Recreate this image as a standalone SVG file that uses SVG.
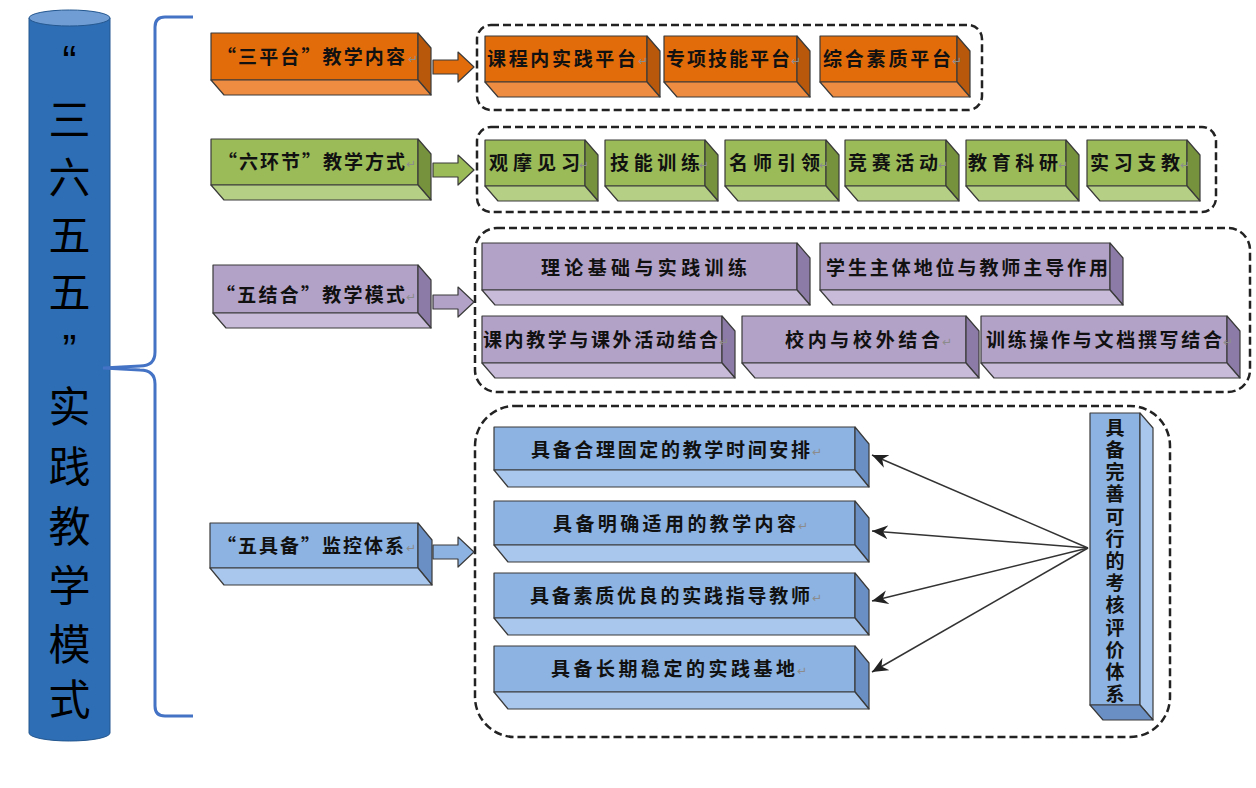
<svg xmlns="http://www.w3.org/2000/svg" width="1256" height="788" viewBox="0 0 1256 788">
<style>
.t{font-family:"Noto Sans CJK SC","Noto Sans CJK TC",sans-serif;font-weight:bold;font-size:19px;fill:#111}
.big{font-family:"Noto Sans CJK SC",sans-serif;font-size:42px;fill:#000;text-anchor:middle}
.q{font-family:"Liberation Sans",sans-serif;font-size:42px;fill:#000;text-anchor:middle}
.pm{font-family:"DejaVu Sans",sans-serif;font-size:12px;fill:#8c8c8c}
.edge{stroke:#3a3a3a;stroke-width:1.2;stroke-linejoin:round}
.o1{fill:#E36C0A}.o2{fill:#B7580B}.o3{fill:#EE8D42}
.g1{fill:#9BBB59}.g2{fill:#76923C}.g3{fill:#B5CF84}
.p1{fill:#B3A2C7}.p2{fill:#8C7BA6}.p3{fill:#C7BBD9}
.b1{fill:#8DB3E2}.b2{fill:#6A8FC4}.b3{fill:#A9C6EC}
.dash{fill:none;stroke:#222;stroke-width:2.5;stroke-dasharray:8 4}
.line{stroke:#333;stroke-width:1.5;fill:none}
.vt{writing-mode:vertical-rl;text-orientation:upright;letter-spacing:3.2px}
</style>
<defs>
<marker id="ah" markerUnits="userSpaceOnUse" markerWidth="18" markerHeight="14" refX="16" refY="7" orient="auto">
<path d="M16,7 L0,0 L5,7 L0,14 Z" fill="#222"/>
</marker>
</defs>
<rect width="1256" height="788" fill="#fff"/>

<g id="title">
<path d="M29,18 L29,733 A40.5,8 0 0 0 110,733 L110,18 Z" fill="#2E6EB5" stroke="#24578F" stroke-width="1"/>
<ellipse cx="69.5" cy="18" rx="40.5" ry="8" fill="#6F9DD4" stroke="#24578F" stroke-width="1"/>
<text class="q" x="69.5" y="75">“</text>
<text class="big" x="69.5" y="135">三</text>
<text class="big" x="69.5" y="193">六</text>
<text class="big" x="69.5" y="251">五</text>
<text class="big" x="69.5" y="308">五</text>
<text class="q" x="69.5" y="364">”</text>
<text class="big" x="69.5" y="422">实</text>
<text class="big" x="69.5" y="482">践</text>
<text class="big" x="69.5" y="542">教</text>
<text class="big" x="69.5" y="601">学</text>
<text class="big" x="69.5" y="660">模</text>
<text class="big" x="69.5" y="715">式</text>
</g>

<g id="brace">
<path d="M193,17 L165,17 Q155,17 155,27 L155,352 Q155,366 140,366 L103,368 L140,370 Q155,370 155,384 L155,706 Q155,716 165,716 L193,716" fill="none" stroke="#4472C4" stroke-width="3"/>
</g>

<g id="groups">
<rect class="dash" x="477" y="25" width="505" height="85" rx="14"/>
<rect class="dash" x="477" y="127" width="739" height="85" rx="14"/>
<rect class="dash" x="475" y="228" width="775" height="164" rx="22"/>
<rect class="dash" x="475" y="406" width="695" height="331" rx="40"/>
</g>

<g id="connectors">
<path class="o1 edge" d="M433,60 L458,60 L458,52 L474,67 L458,82 L458,74 L433,74 Z"/>
<path class="g1 edge" d="M433,163 L458,163 L458,155 L474,170 L458,185 L458,177 L433,177 Z"/>
<path class="p1 edge" d="M433,295 L458,295 L458,287 L474,302 L458,317 L458,309 L433,309 Z"/>
<path class="b1 edge" d="M433,545 L458,545 L458,537 L474,552 L458,567 L458,559 L433,559 Z"/>
<line class="line" x1="1088" y1="548" x2="872" y2="455" marker-end="url(#ah)"/>
<line class="line" x1="1088" y1="548" x2="872" y2="531" marker-end="url(#ah)"/>
<line class="line" x1="1088" y1="548" x2="872" y2="601" marker-end="url(#ah)"/>
<line class="line" x1="1088" y1="548" x2="872" y2="672" marker-end="url(#ah)"/>
</g>

<!-- Row 1 -->
<g id="n-sanpingtai">
<rect class="o1 edge" x="211" y="33" width="207" height="47"/>
<path class="o2 edge" d="M418,33 L431,48 L431,95 L418,80 Z"/>
<path class="o3 edge" d="M211,80 L418,80 L431,95 L224,95 Z"/>
<text class="t" x="217" y="64" textLength="188" lengthAdjust="spacing">“三平台”教学内容</text>
<text class="pm" x="408" y="63">↵</text>
</g>
<g id="n-kcn">
<rect class="o1 edge" x="485" y="36" width="162" height="46"/>
<path class="o2 edge" d="M647,36 L660,51 L660,97 L647,82 Z"/>
<path class="o3 edge" d="M485,82 L647,82 L660,97 L498,97 Z"/>
<text class="t" x="487" y="66" textLength="149" lengthAdjust="spacing">课程内实践平台</text>
<text class="pm" x="638" y="65">↵</text>
</g>
<g id="n-zxjn">
<rect class="o1 edge" x="664" y="36" width="133" height="46"/>
<path class="o2 edge" d="M797,36 L810,51 L810,97 L797,82 Z"/>
<path class="o3 edge" d="M664,82 L797,82 L810,97 L677,97 Z"/>
<text class="t" x="666" y="66" textLength="124" lengthAdjust="spacing">专项技能平台</text>
<text class="pm" x="791" y="65">↵</text>
</g>
<g id="n-zhsz">
<rect class="o1 edge" x="820" y="36" width="137" height="46"/>
<path class="o2 edge" d="M957,36 L970,51 L970,97 L957,82 Z"/>
<path class="o3 edge" d="M820,82 L957,82 L970,97 L833,97 Z"/>
<text class="t" x="823" y="66" textLength="128" lengthAdjust="spacing">综合素质平台</text>
<text class="pm" x="952" y="65">↵</text>
</g>

<!-- Row 2 -->
<g id="n-liuhuanjie">
<rect class="g1 edge" x="211" y="139" width="207" height="46"/>
<path class="g2 edge" d="M418,139 L431,154 L431,200 L418,185 Z"/>
<path class="g3 edge" d="M211,185 L418,185 L431,200 L224,200 Z"/>
<text class="t" x="218" y="169" textLength="187" lengthAdjust="spacing">“六环节”教学方式</text>
<text class="pm" x="406" y="168">↵</text>
</g>
<g id="n-gmjx">
<rect class="g1 edge" x="485" y="140" width="100" height="46"/>
<path class="g2 edge" d="M585,140 L598,155 L598,201 L585,186 Z"/>
<path class="g3 edge" d="M485,186 L585,186 L598,201 L498,201 Z"/>
<text class="t" x="489" y="170" textLength="91" lengthAdjust="spacing">观摩见习</text>
<text class="pm" x="579" y="169">↵</text>
</g>
<g id="n-jnxl">
<rect class="g1 edge" x="605" y="140" width="100" height="46"/>
<path class="g2 edge" d="M705,140 L718,155 L718,201 L705,186 Z"/>
<path class="g3 edge" d="M605,186 L705,186 L718,201 L618,201 Z"/>
<text class="t" x="610" y="170" textLength="90" lengthAdjust="spacing">技能训练</text>
<text class="pm" x="699" y="169">↵</text>
</g>
<g id="n-msyl">
<rect class="g1 edge" x="725" y="140" width="101" height="46"/>
<path class="g2 edge" d="M826,140 L839,155 L839,201 L826,186 Z"/>
<path class="g3 edge" d="M725,186 L826,186 L839,201 L738,201 Z"/>
<text class="t" x="729" y="170" textLength="91" lengthAdjust="spacing">名师引领</text>
<text class="pm" x="819" y="169">↵</text>
</g>
<g id="n-jshd">
<rect class="g1 edge" x="845" y="140" width="101" height="46"/>
<path class="g2 edge" d="M946,140 L959,155 L959,201 L946,186 Z"/>
<path class="g3 edge" d="M845,186 L946,186 L959,201 L858,201 Z"/>
<text class="t" x="848" y="170" textLength="90" lengthAdjust="spacing">竞赛活动</text>
<text class="pm" x="938" y="169">↵</text>
</g>
<g id="n-jyky">
<rect class="g1 edge" x="966" y="140" width="100" height="46"/>
<path class="g2 edge" d="M1066,140 L1079,155 L1079,201 L1066,186 Z"/>
<path class="g3 edge" d="M966,186 L1066,186 L1079,201 L979,201 Z"/>
<text class="t" x="968" y="170" textLength="90" lengthAdjust="spacing">教育科研</text>
<text class="pm" x="1058" y="169">↵</text>
</g>
<g id="n-sxzj">
<rect class="g1 edge" x="1087" y="140" width="100" height="46"/>
<path class="g2 edge" d="M1187,140 L1200,155 L1200,201 L1187,186 Z"/>
<path class="g3 edge" d="M1087,186 L1187,186 L1200,201 L1100,201 Z"/>
<text class="t" x="1090" y="170" textLength="90" lengthAdjust="spacing">实习支教</text>
<text class="pm" x="1180" y="169">↵</text>
</g>

<!-- Row 3 -->
<g id="n-wujiehe">
<rect class="p1 edge" x="213" y="265" width="205" height="48"/>
<path class="p2 edge" d="M418,265 L431,280 L431,328 L418,313 Z"/>
<path class="p3 edge" d="M213,313 L418,313 L431,328 L226,328 Z"/>
<text class="t" x="216" y="302" textLength="189" lengthAdjust="spacing">“五结合”教学模式</text>
<text class="pm" x="406" y="301">↵</text>
</g>
<g id="n-llsj">
<rect class="p1 edge" x="482" y="243" width="315" height="47"/>
<path class="p2 edge" d="M797,243 L810,258 L810,305 L797,290 Z"/>
<path class="p3 edge" d="M482,290 L797,290 L810,305 L495,305 Z"/>
<text class="t" x="541" y="275" textLength="206" lengthAdjust="spacing">理论基础与实践训练</text>
</g>
<g id="n-xszt">
<rect class="p1 edge" x="820" y="243" width="290" height="47"/>
<path class="p2 edge" d="M1110,243 L1123,258 L1123,305 L1110,290 Z"/>
<path class="p3 edge" d="M820,290 L1110,290 L1123,305 L833,305 Z"/>
<text class="t" x="826" y="275" textLength="282" lengthAdjust="spacing">学生主体地位与教师主导作用</text>
</g>
<g id="n-knjx">
<rect class="p1 edge" x="482" y="316" width="240" height="47"/>
<path class="p2 edge" d="M722,316 L735,331 L735,378 L722,363 Z"/>
<path class="p3 edge" d="M482,363 L722,363 L735,378 L495,378 Z"/>
<text class="t" x="483" y="347" textLength="235" lengthAdjust="spacing">课内教学与课外活动结合</text>
<text class="pm" x="719" y="346">↵</text>
</g>
<g id="n-xnxw">
<rect class="p1 edge" x="742" y="316" width="224" height="47"/>
<path class="p2 edge" d="M966,316 L979,331 L979,378 L966,363 Z"/>
<path class="p3 edge" d="M742,363 L966,363 L979,378 L755,378 Z"/>
<text class="t" x="785" y="347" textLength="155" lengthAdjust="spacing">校内与校外结合</text>
<text class="pm" x="942" y="346">↵</text>
</g>
<g id="n-xlcz">
<rect class="p1 edge" x="981" y="316" width="246" height="47"/>
<path class="p2 edge" d="M1227,316 L1240,331 L1240,378 L1227,363 Z"/>
<path class="p3 edge" d="M981,363 L1227,363 L1240,378 L994,378 Z"/>
<text class="t" x="986" y="347" textLength="236" lengthAdjust="spacing">训练操作与文档撰写结合</text>
<text class="pm" x="1223" y="346">↵</text>
</g>

<!-- Row 4 -->
<g id="n-wujubei">
<rect class="b1 edge" x="210" y="523" width="208" height="45"/>
<path class="b2 edge" d="M418,523 L432,540 L432,585 L418,568 Z"/>
<path class="b3 edge" d="M210,568 L418,568 L432,585 L224,585 Z"/>
<text class="t" x="217" y="553" textLength="187" lengthAdjust="spacing">“五具备”监控体系</text>
<text class="pm" x="406" y="552">↵</text>
</g>
<g id="n-jb1">
<rect class="b1 edge" x="494" y="427" width="361" height="43"/>
<path class="b2 edge" d="M855,427 L869,444 L869,487 L855,470 Z"/>
<path class="b3 edge" d="M494,470 L855,470 L869,487 L508,487 Z"/>
<text class="t" x="531" y="457" textLength="279" lengthAdjust="spacing">具备合理固定的教学时间安排</text>
<text class="pm" x="812" y="456">↵</text>
</g>
<g id="n-jb2">
<rect class="b1 edge" x="494" y="501" width="361" height="44"/>
<path class="b2 edge" d="M855,501 L869,518 L869,562 L855,545 Z"/>
<path class="b3 edge" d="M494,545 L855,545 L869,562 L508,562 Z"/>
<text class="t" x="553" y="531" textLength="243" lengthAdjust="spacing">具备明确适用的教学内容</text>
<text class="pm" x="798" y="530">↵</text>
</g>
<g id="n-jb3">
<rect class="b1 edge" x="494" y="573" width="361" height="45"/>
<path class="b2 edge" d="M855,573 L869,590 L869,635 L855,618 Z"/>
<path class="b3 edge" d="M494,618 L855,618 L869,635 L508,635 Z"/>
<text class="t" x="530" y="603" textLength="280" lengthAdjust="spacing">具备素质优良的实践指导教师</text>
<text class="pm" x="812" y="602">↵</text>
</g>
<g id="n-jb4">
<rect class="b1 edge" x="494" y="646" width="361" height="46"/>
<path class="b2 edge" d="M855,646 L869,663 L869,709 L855,692 Z"/>
<path class="b3 edge" d="M494,692 L855,692 L869,709 L508,709 Z"/>
<text class="t" x="551" y="676" textLength="244" lengthAdjust="spacing">具备长期稳定的实践基地</text>
<text class="pm" x="797" y="675">↵</text>
</g>
<g id="n-khpj">
<rect class="b1 edge" x="1090" y="413" width="50" height="292"/>
<path class="b3 edge" d="M1140,413 L1153,428 L1153,720 L1140,705 Z"/>
<path class="b2 edge" d="M1090,705 L1140,705 L1153,720 L1103,720 Z"/>
<text class="t vt" x="1115" y="418">具备完善可行的考核评价体系</text>
</g>
</svg>
